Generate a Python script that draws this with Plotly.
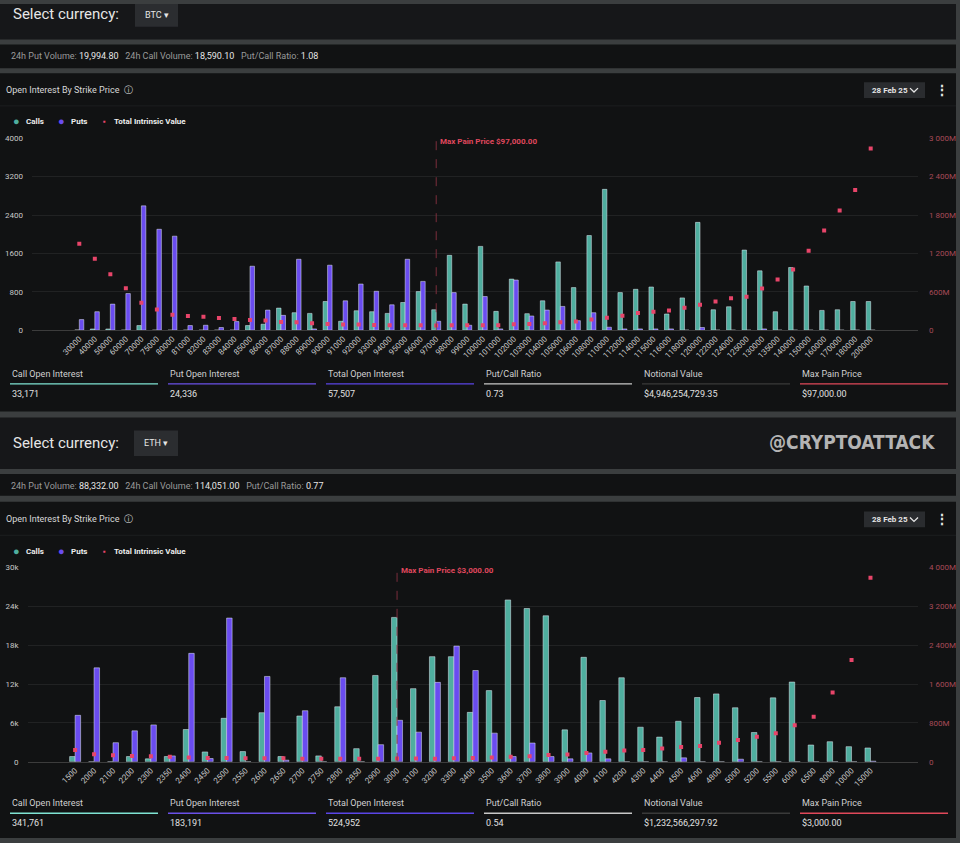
import plotly.graph_objects as go

# ---- data ----
btc_strikes = ['30000', '40000', '50000', '60000', '70000', '75000', '80000', '81000', '82000',
               '83000', '84000', '85000', '86000', '87000', '88000', '89000', '90000', '91000',
               '92000', '93000', '94000', '95000', '96000', '97000', '98000', '99000', '100000',
               '101000', '102000', '103000', '104000', '105000', '106000', '108000', '110000',
               '112000', '114000', '115000', '116000', '118000', '120000', '122000', '124000',
               '125000', '130000', '135000', '140000', '150000', '160000', '170000', '180000',
               '200000']
btc_calls = [5, 25, 25, 0, 96, 0, 0, 0, 0, 0, 0, 96, 124, 460, 364, 350, 598, 186, 405, 385,
             350, 577, 804, 426, 1560, 543, 1746, 392, 1065, 344, 612, 1423, 887, 1972, 2935,
             783, 852, 900, 337, 673, 2247, 426, 488, 1670, 1237, 385, 1306, 921, 412, 426,
             598, 598]
btc_puts = [220, 385, 543, 763, 2591, 2103, 1959, 96, 103, 55, 179, 1333, 419, 309, 1478, 27,
            1354, 612, 962, 811, 529, 1478, 1017, 186, 783, 103, 701, 27, 1045, 296, 419, 495,
            199, 364, 62, 27, 27, 27, 27, 0, 55, 0, 0, 0, 27, 0, 0, 0, 0, 0, 0, 0]
btc_intrinsic_m = [1350, 1118, 876, 655, 428, 325, 242, 222, 211, 191, 175, 160, 150, 129, 124,
                   108, 98, 88, 88, 82, 77, 77, 77, 72, 77, 77, 77, 77, 93, 98, 108, 124, 134,
                   165, 196, 227, 268, 289, 309, 351, 397, 448, 500, 521, 650, 794, 948, 1242,
                   1557, 1871, 2191, 2840]
btc_max_pain = '97000'

eth_strikes = ['1500', '2000', '2100', '2200', '2300', '2350', '2400', '2450', '2500', '2550',
               '2600', '2650', '2700', '2750', '2800', '2850', '2900', '3000', '3100', '3200',
               '3300', '3400', '3500', '3600', '3700', '3800', '3900', '4000', '4100', '4200',
               '4300', '4400', '4500', '4600', '4800', '5000', '5200', '5500', '6000', '6500',
               '8000', '10000', '15000']
eth_calls = [815, 0, 0, 815, 458, 815, 4991, 1528, 6723, 1579, 7589, 815, 7079, 917, 8505, 2037,
             13344, 22307, 11306, 16246, 16246, 7640, 11000, 25006, 23682, 22562, 4940, 16145,
             9473, 12987, 5348, 3820, 6264, 9931, 10492, 8352, 4533, 9880, 12325, 2597, 3107,
             2343, 2139]
eth_puts = [7181, 14515, 2954, 4787, 5704, 917, 16756, 509, 22205, 0, 13191, 255, 7894, 0, 12987,
            0, 2648, 6417, 4584, 12274, 17876, 14107, 4431, 815, 2903, 815, 458, 1375, 458, 0, 0,
            0, 611, 0, 0, 407, 0, 0, 0, 0, 0, 0, 100]
eth_intrinsic_m = [244, 156, 136, 122, 115, 102, 88, 81, 81, 75, 75, 75, 61, 61, 61, 61, 61, 68,
                   68, 61, 75, 81, 88, 102, 115, 143, 149, 183, 210, 231, 244, 272, 306, 326,
                   394, 448, 516, 591, 754, 930, 1426, 2098, 3789]
eth_max_pain = '3000'

btc_summary = [('Call Open Interest', '33,171'), ('Put Open Interest', '24,336'),
               ('Total Open Interest', '57,507'), ('Put/Call Ratio', '0.73'),
               ('Notional Value', '$4,946,254,729.35'), ('Max Pain Price', '$97,000.00')]
eth_summary = [('Call Open Interest', '341,761'), ('Put Open Interest', '183,191'),
               ('Total Open Interest', '524,952'), ('Put/Call Ratio', '0.54'),
               ('Notional Value', '$1,232,566,297.92'), ('Max Pain Price', '$3,000.00')]
btc_volume = ('19,994.80', '18,590.10', '1.08')
eth_volume = ('88,332.00', '114,051.00', '0.77')

W, H = 960, 843
CALL = '#4fae9f'
PUT = '#6a4cf0'
DOT = '#e8456a'
FONT = 'Roboto'
summary_colors = ['#7fe3d3', '#6a50e8', '#5a45e6', '#c8c8c8', '#3a3a3a', '#e0485a']


def px(x):
    return x / W


def py(y):
    return 1 - y / H


shapes = []
annotations = []


def rect(x0, y0, x1, y1, color):
    shapes.append(dict(type='rect', xref='paper', yref='paper', layer='below',
                       x0=px(x0), x1=px(x1), y0=py(y0), y1=py(y1),
                       fillcolor=color, line=dict(width=0)))


def text(x, y, s, size=9, color='#dddddd', anchor='left', family=FONT):
    annotations.append(dict(xref='paper', yref='paper', x=px(x), y=py(y), text=s,
                            showarrow=False, xanchor=anchor, yanchor='middle',
                            font=dict(size=size, color=color, family=family)))


def right_ticks(top, step):
    vals = list(range(0, top + 1, step))
    labels = [f'{v:,}'.replace(',', ' ') + 'M' if v else '0' for v in vals]
    return vals, labels


# panel backgrounds
rect(0, 0, 956, 36, '#161719')
rect(0, 41, 956, 65, '#111213')
rect(0, 70, 956, 412, '#111213')
rect(0, 418, 956, 470, '#161719')
rect(0, 475, 956, 497, '#111213')
rect(0, 503, 956, 843, '#111213')


def header(y_sel, y_vol, y_title, y_leg, currency, vol, btn):
    text(11, y_sel, 'Select currency:', size=15, color='#e6e6e6')
    rect(btn[0], btn[1], btn[2], btn[3], '#2b2d30')
    text((btn[0] + btn[2]) / 2, (btn[1] + btn[3]) / 2, currency + ' ▾', size=9,
         color='#e6e6e6', anchor='center')
    text(9, y_vol,
         f'<span style="color:#9a9a9a">24h Put Volume:</span> {vol[0]}   '
         f'<span style="color:#9a9a9a">24h Call Volume:</span> {vol[1]}   '
         f'<span style="color:#9a9a9a">Put/Call Ratio:</span> {vol[2]}',
         size=9, color='#e6e6e6')
    text(4, y_title, 'Open Interest By Strike Price  ⓘ', size=9, color='#d8d8d8')
    # date selector + menu
    rect(864, y_title - 8, 925, y_title + 8, '#2a2c2f')
    text(870, y_title, '<b>28 Feb 25</b>', size=8, color='#e6e6e6')
    shapes.append(dict(type='path', xref='paper', yref='paper',
                       path=f'M {px(910)} {py(y_title - 2)} L {px(914)} {py(y_title + 2)} '
                            f'L {px(918)} {py(y_title - 2)}',
                       line=dict(color='#e6e6e6', width=1.3)))
    text(942, y_title, '<b>⋮</b>', size=14, color='#e6e6e6', anchor='center')
    shapes.append(dict(type='line', xref='paper', yref='paper', x0=0, x1=px(956),
                       y0=py(y_title + 16), y1=py(y_title + 16),
                       line=dict(color='#1d1e20', width=1)))
    # legend
    text(16, y_leg, '●', size=11, color=CALL, anchor='center')
    text(24, y_leg, '<b>Calls</b>', size=8, color='#eeeeee')
    text(61, y_leg, '●', size=11, color=PUT, anchor='center')
    text(69, y_leg, '<b>Puts</b>', size=8, color='#eeeeee')
    text(104, y_leg, '▪', size=8, color=DOT, anchor='center')
    text(112, y_leg, '<b>Total Intrinsic Value</b>', size=8, color='#eeeeee')


def summary(rows, y_lab):
    for i, (label, value) in enumerate(rows):
        x0 = 10 + i * 158
        text(x0, y_lab, label, size=9, color='#d0d0d0')
        shapes.append(dict(type='line', xref='paper', yref='paper',
                           x0=px(x0), x1=px(x0 + 148), y0=py(y_lab + 10), y1=py(y_lab + 10),
                           line=dict(color=summary_colors[i], width=1.3)))
        text(x0, y_lab + 20, value, size=9, color='#e0e0e0')


header(10, 53, 87, 119, 'BTC', btc_volume, (135, 0, 178, 23))
header(444, 487, 521, 553, 'ETH', eth_volume, (134, 431, 178, 457))
summary(btc_summary, 374)
summary(eth_summary, 808)
text(937, 443, '<b>@CRYPTOATTACK</b>', size=19, color='#b4b4b4', anchor='right',
     family='DejaVu Sans Condensed, Roboto Condensed, Roboto, sans-serif')

fig = go.Figure()
fig.add_trace(go.Bar(x=btc_strikes, y=btc_calls, name='Calls', marker_color=CALL,
                     xaxis='x', yaxis='y'))
fig.add_trace(go.Bar(x=btc_strikes, y=btc_puts, name='Puts', marker_color=PUT,
                     xaxis='x', yaxis='y'))
fig.add_trace(go.Scatter(x=btc_strikes, y=btc_intrinsic_m, mode='markers',
                         name='Total Intrinsic Value', xaxis='x', yaxis='y2',
                         marker=dict(symbol='square', size=4, color=DOT)))
fig.add_trace(go.Bar(x=eth_strikes, y=eth_calls, name='Calls', marker_color=CALL,
                     xaxis='x2', yaxis='y3'))
fig.add_trace(go.Bar(x=eth_strikes, y=eth_puts, name='Puts', marker_color=PUT,
                     xaxis='x2', yaxis='y3'))
fig.add_trace(go.Scatter(x=eth_strikes, y=eth_intrinsic_m, mode='markers',
                         name='Total Intrinsic Value', xaxis='x2', yaxis='y4',
                         marker=dict(symbol='square', size=4, color=DOT)))

# max pain markers
for strikes, mp, xref, y_top, y_bot in [(btc_strikes, btc_max_pain, 'x', 135.7, 329.7),
                                         (eth_strikes, eth_max_pain, 'x2', 569.7, 766)]:
    idx = strikes.index(mp)
    shapes.append(dict(type='line', xref=xref, yref='paper', x0=idx, x1=idx,
                       y0=py(y_bot), y1=py(y_top),
                       line=dict(color='#7a2e3c', width=1, dash='dash')))
    annotations.append(dict(xref=xref, yref='paper', x=idx, y=py(y_top + 3),
                            text=f'<b>Max Pain Price ${int(mp):,}.00</b>', showarrow=False,
                            xanchor='left', yanchor='middle', xshift=2,
                            font=dict(size=8, color='#e0485e', family=FONT)))

btc_r_vals, btc_r_text = right_ticks(3000, 600)
eth_r_vals, eth_r_text = right_ticks(4000, 800)

xcommon = dict(type='category', tickangle=-45, tickfont=dict(size=8, color='#c8c8c8'),
               showgrid=False, showline=True, linecolor='#3c3c3c', ticks='',
               fixedrange=True)
ycommon = dict(showgrid=True, gridcolor='#212223', zeroline=False, ticks='',
               tickfont=dict(size=8, color='#c8c8c8'), ticklabelstandoff=8, fixedrange=True)
rcommon = dict(showgrid=False, zeroline=False, ticks='', side='right',
               tickfont=dict(size=8, color='#a84a58'), ticklabelstandoff=10, fixedrange=True)

fig.update_layout(
    width=W, height=H,
    margin=dict(l=0, r=0, t=0, b=0),
    paper_bgcolor='#3b3e3f',
    plot_bgcolor='rgba(0,0,0,0)',
    font=dict(family=FONT, color='#dddddd'),
    showlegend=False,
    barmode='group', bargap=0.42, bargroupgap=0,
    hovermode=False,
    xaxis=dict(domain=[px(32), px(918)], anchor='y', **xcommon),
    yaxis=dict(domain=[py(329.7), py(135.7)], range=[0, 4000], dtick=800, tickformat='d',
               anchor='x', **ycommon),
    yaxis2=dict(overlaying='y', anchor='x', range=[0, 3000], tickvals=btc_r_vals,
                ticktext=btc_r_text, **rcommon),
    xaxis2=dict(domain=[px(27.6), px(918)], anchor='y3', **xcommon),
    yaxis3=dict(domain=[py(766), py(569.7)], range=[0, 30000], dtick=6000, tickformat='~s',
                anchor='x2', **ycommon),
    yaxis4=dict(overlaying='y3', anchor='x2', range=[0, 4000], tickvals=eth_r_vals,
                ticktext=eth_r_text, **rcommon),
    shapes=shapes,
    annotations=annotations,
)

fig.write_html('out.html', config={'displayModeBar': False},
               post_script="document.body.style.margin='0';"
                           "document.body.style.overflow='hidden';")
